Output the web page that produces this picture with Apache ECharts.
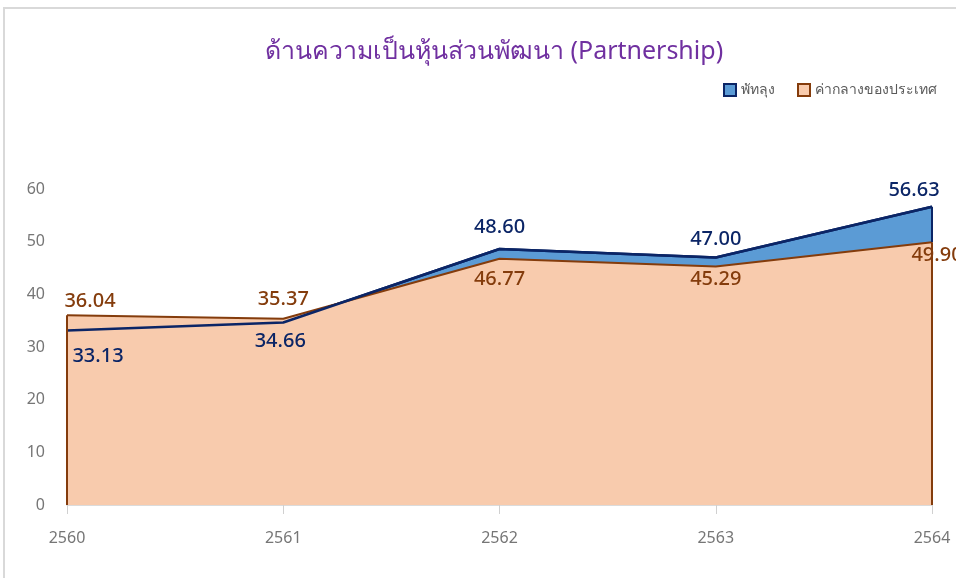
<!DOCTYPE html>
<html>
<head>
<meta charset="utf-8">
<script src="https://cdn.jsdelivr.net/npm/echarts@6/dist/echarts.min.js"></script>
<style>
html, body { margin: 0; padding: 0; background: #fff; }
#main { width: 956px; height: 578px; }
</style>
</head>
<body>
<div id="main"></div>
<script>
// ข้อมูลกราฟ
var years = ['2560', '2561', '2562', '2563', '2564'];
var phatthalung = [33.13, 34.66, 48.60, 47.00, 56.63];
var national = [36.04, 35.37, 46.77, 45.29, 49.90];
var yTicks = [0, 10, 20, 30, 40, 50, 60];

var chartTitle = 'ด้านความเป็นหุ้นส่วนพัฒนา (Partnership)';
var nameA = 'พัทลุง';
var nameB = 'ค่ากลางของประเทศ';

var navy = '#0b2566';
var blueFill = '#5b9bd5';
var brown = '#843c0c';
var peach = '#f8cbad';
var axisGrey = '#767676';
var font = '"Noto Sans", "DejaVu Sans", sans-serif';

// ตำแหน่งป้ายค่า (วางบน/ล่าง เหมือนต้นฉบับ)
var posA = ['bottom', 'bottom', 'top', 'top', 'top'];
var offA = [[31, 10], [-3, 3], [0, -6], [0, -2], [-18, 0]];
var posB = ['top', 'top', 'bottom', 'bottom', 'bottom'];
var offB = [[23, 2], [0, -3], [0, 5], [0, -3], [5, -3]];

function labelData(values, pos, off, color) {
	var out = [];
	for (var i = 0; i < values.length; i++) {
		out.push({
			value: values[i],
			label: {
				show: true,
				position: pos[i],
				offset: off[i],
				distance: 6,
				color: color,
				fontSize: 20,
				fontWeight: 500,
				fontFamily: font,
				formatter: function(p) { return Number(p.value).toFixed(2); }
			}
		});
	}
	return out;
}

// เส้นขอบแนวตั้งที่ปลายพื้นที่
function edgeLines(values, color) {
	var last = years.length - 1;
	return {
		silent: true,
		symbol: 'none',
		label: { show: false },
		lineStyle: { color: color, width: 2, type: 'solid' },
		data: [
			[{ coord: [years[0], 0] }, { coord: [years[0], values[0]] }],
			[{ coord: [years[last], 0] }, { coord: [years[last], values[last]] }]
		]
	};
}

var myChart = echarts.init(document.getElementById('main'));

myChart.setOption({
	animation: false,
	backgroundColor: '#fff',
	graphic: [{
		type: 'rect',
		shape: { x: 4, y: 8, width: 1100, height: 1000 },
		style: { fill: 'none', stroke: '#d9d9d9', lineWidth: 2 },
		silent: true,
		z: -10
	}],
	title: {
		text: chartTitle,
		left: 260,
		top: 34,
		textStyle: { color: '#7030a0', fontSize: 25, fontWeight: 'normal', fontFamily: font }
	},
	legend: {
		right: 14,
		top: 78,
		icon: 'rect',
		itemWidth: 12,
		itemHeight: 12,
		itemGap: 22,
		textStyle: { color: '#595959', fontSize: 14, fontFamily: font },
		data: [
			{ name: nameA, itemStyle: { color: blueFill, borderColor: navy, borderWidth: 2 } },
			{ name: nameB, itemStyle: { color: peach, borderColor: brown, borderWidth: 2 } }
		]
	},
	grid: { left: 67, right: 24, top: 189, bottom: 73, containLabel: false },
	xAxis: {
		type: 'category',
		data: years,
		boundaryGap: false,
		axisLine: { lineStyle: { color: '#d0d0d0', width: 1.5 } },
		axisTick: { show: true, length: 9, lineStyle: { color: '#d0d0d0' } },
		axisLabel: { color: axisGrey, fontSize: 16, fontFamily: font, margin: 25 }
	},
	yAxis: {
		type: 'value',
		min: yTicks[0],
		max: yTicks[yTicks.length - 1],
		interval: 10,
		axisLine: { show: false },
		axisTick: { show: false },
		splitLine: { show: false },
		axisLabel: { color: axisGrey, fontSize: 16, fontFamily: font, margin: 22 }
	},
	series: [{
		name: nameA,
		type: 'line',
		data: phatthalung,
		symbol: 'none',
		lineStyle: { color: navy, width: 2.5 },
		areaStyle: { color: blueFill, opacity: 1 },
		markLine: {
			silent: true,
			symbol: 'none',
			label: { show: false },
			lineStyle: { color: navy, width: 2, type: 'solid' },
			data: [[{ coord: [years[4], national[4]] }, { coord: [years[4], phatthalung[4]] }]]
		},
		z: 2
	}, {
		name: nameB,
		type: 'line',
		data: labelData(national, posB, offB, brown),
		symbol: 'circle',
		symbolSize: 0,
		showSymbol: true,
		itemStyle: { color: brown },
		lineStyle: { color: brown, width: 2 },
		areaStyle: { color: peach, opacity: 1 },
		markLine: edgeLines(national, brown),
		z: 3
	}, {
		name: nameA,
		type: 'line',
		data: labelData(phatthalung, posA, offA, navy),
		symbol: 'circle',
		symbolSize: 0,
		showSymbol: true,
		itemStyle: { color: navy },
		lineStyle: { color: navy, width: 2.5 },
		z: 4
	}]
});
</script>
</body>
</html>
